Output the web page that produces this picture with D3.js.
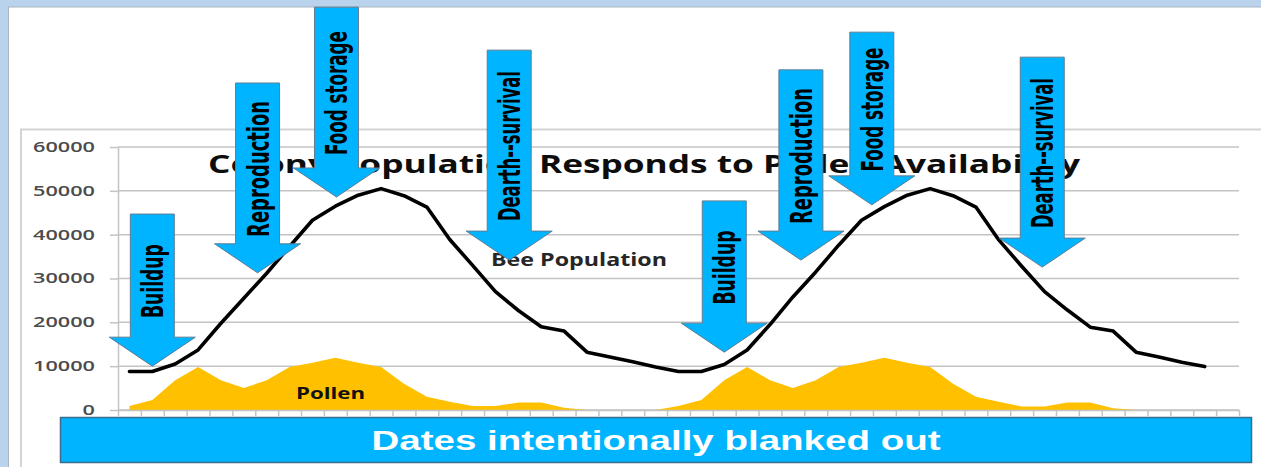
<!DOCTYPE html>
<html>
<head>
<meta charset="utf-8">
<script src="https://cdn.jsdelivr.net/npm/d3@7"></script>
<style>
  html, body { margin: 0; padding: 0; background: #fff; }
  svg { display: block; }
</style>
</head>
<body>
<div id="chart"></div>
<script>
// 49 date slots on the x axis (labels blanked out)
const categories = d3.range(49);

// Bee population, one value per slot (two seasons)
const beePopulation = [
  8800, 8800, 10500, 13700, 19800, 25500, 31200, 37300, 43300, 46500, 49000, 50500,
  48900, 46300, 38900, 33000, 27000, 22700, 19000, 18000, 13200, 12100, 11000, 9800,
  8800, 8800, 10400, 13700, 19500, 25800, 31500, 37600, 43300, 46400, 49000, 50500,
  48900, 46300, 38800, 32800, 27000, 22800, 18900, 18000, 13200, 12100, 10900, 9900
];

// Pollen availability, one value per slot
const pollen = [
  900, 2300, 6800, 9800, 6800, 5000, 6800, 9800, 10800, 11900, 10800, 9800,
  6000, 3000, 1900, 900, 900, 1700, 1700, 500, 0, 0, 0, 0,
  900, 2300, 6800, 9800, 6800, 5000, 6800, 9800, 10800, 11900, 10800, 9800,
  6000, 3000, 1900, 800, 800, 1700, 1700, 400, 0, 0, 0, 0
];

const yTicks = [0, 10000, 20000, 30000, 40000, 50000, 60000];

// Callout arrows: slot position of the tip, value at the tip and at the top of the shaft
const callouts = [
  { label: "Buildup",          slot: 1.0,  tip: 10000, top: 44700 },
  { label: "Reproduction",     slot: 5.6,  tip: 31300, top: 74600 },
  { label: "Food storage",     slot: 9.05, tip: 48600, top: 91900 },
  { label: "Dearth--survival", slot: 16.6, tip: 34200, top: 82100 },
  { label: "Buildup",          slot: 26.0, tip: 13200, top: 47700 },
  { label: "Reproduction",     slot: 29.35,tip: 34200, top: 77600 },
  { label: "Food storage",     slot: 32.45,tip: 46800, top: 86200 },
  { label: "Dearth--survival", slot: 39.9, tip: 32600, top: 80500 }
];
const calloutLength = { "Buildup": 74, "Reproduction": 136, "Food storage": 124, "Dearth--survival": 150 };

const width = 1261, height = 467;
const svg = d3.select("#chart").append("svg")
  .attr("width", width)
  .attr("height", height);

// slide frame
svg.append("rect").attr("x", 0).attr("y", 0).attr("width", width).attr("height", 7).attr("fill", "#b9d3ec");
svg.append("rect").attr("x", 0).attr("y", 0).attr("width", 8).attr("height", height).attr("fill", "#b9d3ec");
svg.append("line").attr("x1", 8).attr("x2", width).attr("y1", 7).attr("y2", 7).attr("stroke", "#a9b4bf");
svg.append("line").attr("x1", 8.5).attr("x2", 8.5).attr("y1", 7).attr("y2", height).attr("stroke", "#a9b4bf");

// chart box
svg.append("path")
  .attr("d", `M21,${height} L21,129.5 L${width},129.5`)
  .attr("fill", "none").attr("stroke", "#d4d4d4").attr("stroke-width", 2);

const x = d3.scaleLinear().domain([0, categories.length]).range([118, 1239]);
const y = d3.scaleLinear().domain([0, 60000]).range([410, 147]);
const cx = i => x(i + 0.5);

// gridlines
svg.append("g")
  .selectAll("line")
  .data(yTicks)
  .join("line")
  .attr("x1", x(0)).attr("x2", x(categories.length))
  .attr("y1", d => y(d)).attr("y2", d => y(d))
  .attr("stroke", "#c4c4c4").attr("stroke-width", 1.5);

// pollen area
svg.append("path")
  .datum(pollen)
  .attr("fill", "#ffc000")
  .attr("d", d3.area().x((d, i) => cx(i)).y0(y(0)).y1(d => y(d)));

// y axis
const yAxis = svg.append("g")
  .attr("transform", `translate(${x(0)},0)`)
  .call(d3.axisLeft(y).tickValues(yTicks).tickSize(8).tickSizeOuter(0).tickPadding(15).tickFormat(d3.format("d")));
yAxis.select(".domain").attr("stroke", "#c4c4c4").attr("stroke-width", 1.5);
yAxis.selectAll(".tick line").attr("stroke", "#c4c4c4").attr("stroke-width", 1.5);
yAxis.selectAll(".tick text")
  .attr("fill", "#4b4b4b")
  .style("font-family", "'Open Sans', sans-serif")
  .style("font-weight", 600)
  .style("font-size", "14px")
  .attr("textLength", d => String(d).length * 12.4)
  .attr("lengthAdjust", "spacingAndGlyphs");

// x axis (ticks between the blank date slots)
const xAxis = svg.append("g")
  .attr("transform", `translate(0,${y(0)})`)
  .call(d3.axisBottom(x).tickValues(d3.range(categories.length + 1)).tickSize(6).tickSizeOuter(0).tickFormat(""));
xAxis.select(".domain").attr("stroke", "#c4c4c4").attr("stroke-width", 1.5);
xAxis.selectAll(".tick line").attr("stroke", "#c4c4c4").attr("stroke-width", 1.5);

// bee population line
svg.append("path")
  .datum(beePopulation)
  .attr("fill", "none")
  .attr("stroke", "#000")
  .attr("stroke-width", 3.6)
  .attr("stroke-linejoin", "round")
  .attr("stroke-linecap", "round")
  .attr("d", d3.line().x((d, i) => cx(i)).y(d => y(d)));

// title
svg.append("text")
  .attr("x", 208).attr("y", 173)
  .attr("textLength", 872).attr("lengthAdjust", "spacingAndGlyphs")
  .attr("fill", "#0d0d0d")
  .style("font-family", "'Open Sans', sans-serif")
  .style("font-weight", 700)
  .style("font-size", "25px")
  .text("Colony Population Responds to Pollen Availability");

// series labels
svg.append("text")
  .attr("x", 491).attr("y", 266)
  .attr("textLength", 176).attr("lengthAdjust", "spacingAndGlyphs")
  .attr("fill", "#262626")
  .style("font-family", "'Open Sans', sans-serif")
  .style("font-weight", 700)
  .style("font-size", "17px")
  .text("Bee Population");

svg.append("text")
  .attr("x", 296).attr("y", 399)
  .attr("textLength", 69).attr("lengthAdjust", "spacingAndGlyphs")
  .attr("fill", "#111")
  .style("font-family", "'Open Sans', sans-serif")
  .style("font-weight", 700)
  .style("font-size", "16px")
  .text("Pollen");

// callout arrows
const shaftHalf = 22, headHalf = 43, headH = 29;
const arrows = svg.append("g")
  .selectAll("g")
  .data(callouts)
  .join("g");

arrows.append("path")
  .attr("fill", "#00b4ff")
  .attr("stroke", "#5f7d94")
  .attr("stroke-width", 1)
  .attr("d", d => {
    const px = cx(d.slot), tip = y(d.tip), top = y(d.top), base = tip - headH;
    return `M${px - shaftHalf},${top} L${px + shaftHalf},${top} L${px + shaftHalf},${base}` +
      ` L${px + headHalf},${base} L${px},${tip} L${px - headHalf},${base} L${px - shaftHalf},${base} Z`;
  });

arrows.append("text")
  .attr("transform", d => `translate(${cx(d.slot)},${(y(d.tip) + y(d.top)) / 2 - 9}) scale(1.27,1) rotate(-90)`)
  .attr("text-anchor", "middle")
  .attr("dy", "0.36em")
  .attr("textLength", d => calloutLength[d.label])
  .attr("lengthAdjust", "spacingAndGlyphs")
  .attr("fill", "#000")
  .style("font-family", "'Liberation Sans Narrow', 'DejaVu Sans Condensed', 'Liberation Sans', sans-serif")
  .style("font-weight", 700)
  .style("font-size", "24px")
  .text(d => d.label);

// blanked-out dates banner
svg.append("rect")
  .attr("x", 60.5).attr("y", 417.5)
  .attr("width", 1191).attr("height", 45)
  .attr("fill", "#00b4ff")
  .attr("stroke", "#3f6c8c")
  .attr("stroke-width", 1.5);

svg.append("text")
  .attr("x", 656).attr("y", 450)
  .attr("text-anchor", "middle")
  .attr("textLength", 569).attr("lengthAdjust", "spacingAndGlyphs")
  .attr("fill", "#fff")
  .style("font-family", "'Liberation Sans', Arial, sans-serif")
  .style("font-weight", 700)
  .style("font-size", "28px")
  .text("Dates intentionally blanked out");
</script>
</body>
</html>
